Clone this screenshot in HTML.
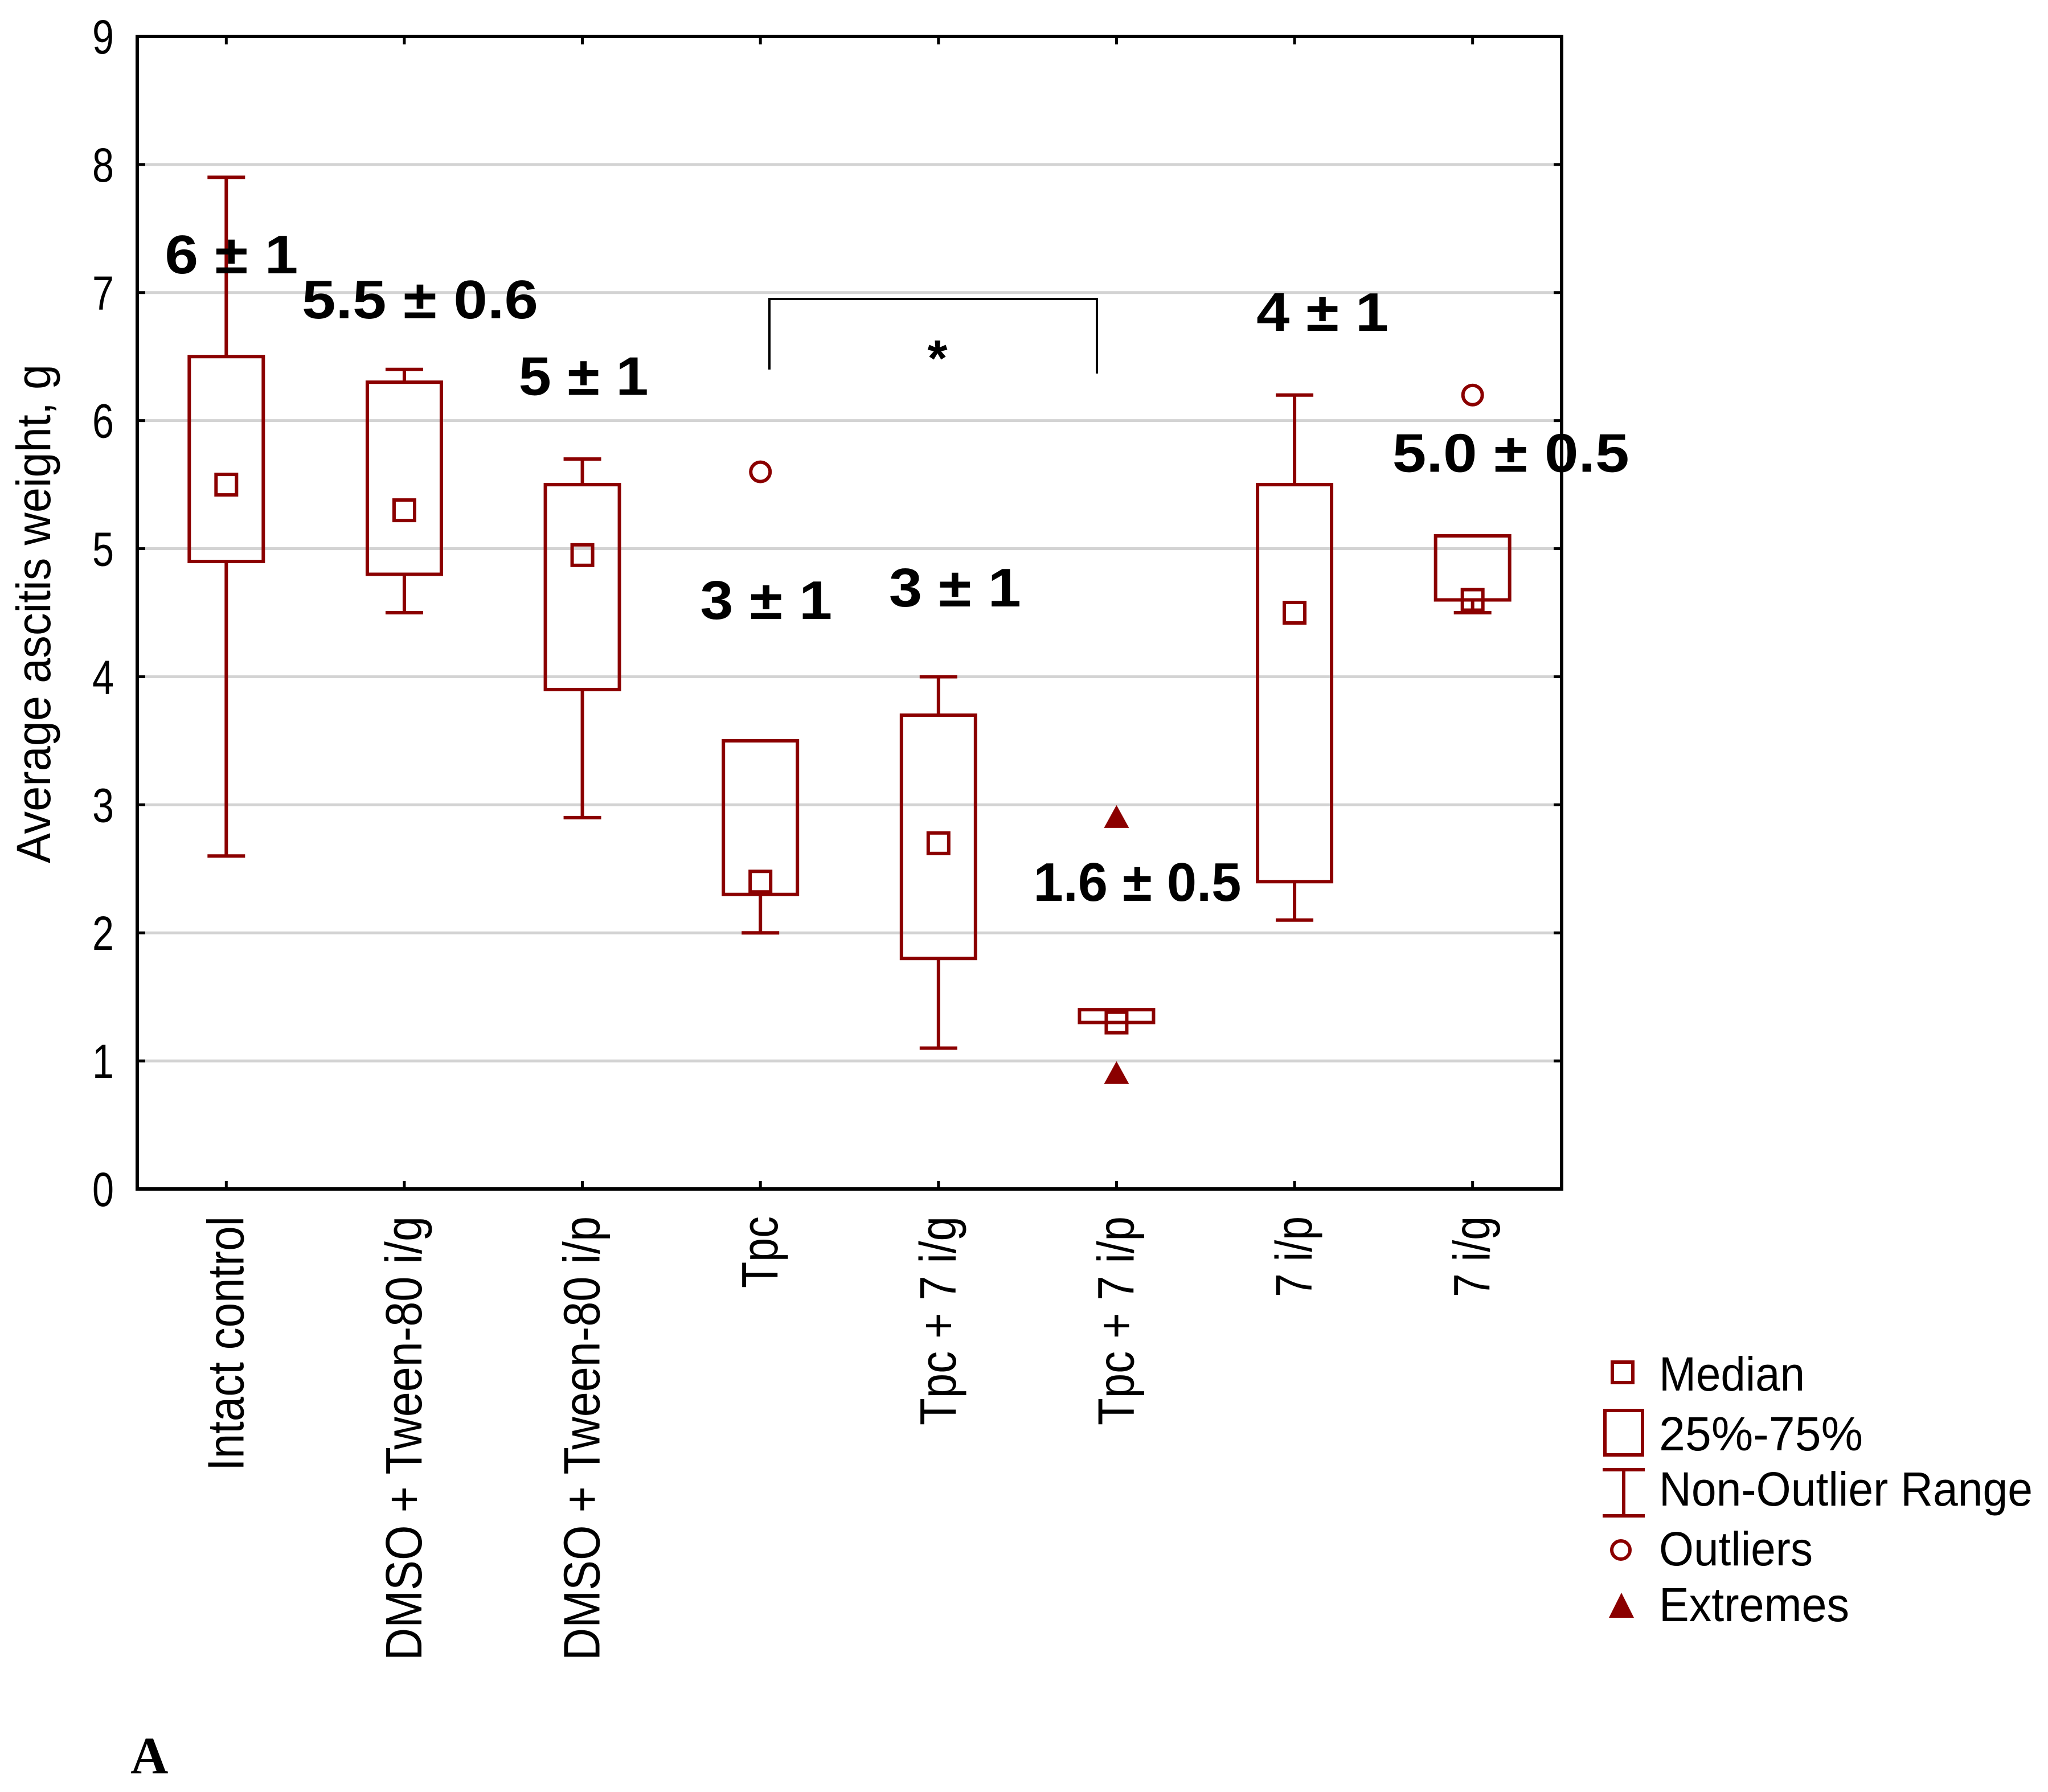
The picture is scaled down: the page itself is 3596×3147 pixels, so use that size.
<!DOCTYPE html>
<html><head><meta charset="utf-8"><style>
html,body{margin:0;padding:0;background:#fff;}
svg{display:block;}
text{font-family:"Liberation Sans",sans-serif;}
</style></head><body>
<svg id="chart" width="3596" height="3147" viewBox="0 0 3596 3147" xmlns="http://www.w3.org/2000/svg">
<rect width="3596" height="3147" fill="#fff"/>
<g id="grid"></g>
<g id="axes"></g>
<g id="marks"></g>
<g id="annos"></g>
<g>
<polyline points="1351,649 1351,525 1926,525 1926,656" fill="none" stroke="#000" stroke-width="4"/>
<text x="1646" y="660" font-size="90" font-weight="bold" text-anchor="middle">*</text>
</g>
<text transform="translate(88,1078) rotate(-90)" font-size="84" text-anchor="middle" textLength="876" lengthAdjust="spacingAndGlyphs">Average ascitis weight, g</text>
<g>
<g><rect x="2831" y="2392" width="36" height="36" fill="none" stroke="#8b0000" stroke-width="6"/><text x="2913" y="2442" font-size="84" textLength="256" lengthAdjust="spacingAndGlyphs">Median</text></g>
<g><rect x="2818" y="2477" width="66" height="78" fill="none" stroke="#8b0000" stroke-width="6"/><text x="2913" y="2547" font-size="84" textLength="358" lengthAdjust="spacingAndGlyphs">25%-75%</text></g>
<g><path d="M2814 2581H2888M2851 2581V2662M2814 2662H2888" fill="none" stroke="#8b0000" stroke-width="6"/><text x="2913" y="2644" font-size="84" textLength="656" lengthAdjust="spacingAndGlyphs">Non-Outlier Range</text></g>
<g><circle cx="2846" cy="2722" r="16" fill="none" stroke="#8b0000" stroke-width="6"/><text x="2913" y="2749" font-size="84" textLength="270" lengthAdjust="spacingAndGlyphs">Outliers</text></g>
<g><polygon points="2847,2797 2869,2841 2825,2841" fill="#8b0000"/><text x="2913" y="2847" font-size="84" textLength="334" lengthAdjust="spacingAndGlyphs">Extremes</text></g>
</g>
<text x="229" y="3114" font-size="92" font-weight="bold" style="font-family:'Liberation Serif',serif">A</text>
</svg>
<script>
const categories = ["Intact control","DMSO + Tween-80 i/g","DMSO + Tween-80 i/p","Tpc","Tpc + 7 i/g","Tpc + 7 i/p","7 i/p","7 i/g"];
const whiskerLow = [2.6,4.5,2.9,2.0,1.1,1.3,2.1,4.5];
const whiskerHigh = [7.9,6.4,5.7,3.5,4.0,1.4,6.2,5.1];
const q1 = [4.9,4.8,3.9,2.3,1.8,1.3,2.4,4.6];
const q3 = [6.5,6.3,5.5,3.5,3.7,1.4,5.5,5.1];
const medians = [5.5,5.3,4.95,2.4,2.7,1.3,4.5,4.6];
const outlierCat = [3,7];
const outlierVal = [5.6,6.2];
const extremeCat = [5,5];
const extremeVal = [2.9,0.9];
const yTicks = [0,1,2,3,4,5,6,7,8,9];
const annoText = ["6 ± 1","5.5 ± 0.6","5 ± 1","3 ± 1","3 ± 1","1.6 ± 0.5","4 ± 1","5.0 ± 0.5"];
const annoVal = [7.15,6.8,6.2,4.45,4.55,2.25,6.7,5.6];
const annoDx = [-108,-180,-112,-106,-87,-146,-67,-141];
const annoLen = [234,415,228,232,232,365,232,416];
const labelLen = [447,780,780,126,367,367,142,142];

const NS="http://www.w3.org/2000/svg";
const L=241,R=2742,T=64,B=2088;
const band=(R-L)/categories.length;
const xS=i=>L+band*(i+0.5);
const yS=v=>B-(v/9)*(B-T);
function mk(tag,attrs,parent){const e=document.createElementNS(NS,tag);for(const k in attrs)e.setAttribute(k,attrs[k]);parent.appendChild(e);return e;}
const grid=document.getElementById('grid'),axes=document.getElementById('axes'),marks=document.getElementById('marks'),annos=document.getElementById('annos');
const red="#8b0000";
yTicks.forEach(v=>{
  const y=yS(v);
  if(v>0&&v<9){const g=mk('line',{x1:L,x2:R,y1:y,y2:y,stroke:"#d3d3d3","stroke-width":5},grid);
  
  }
  mk('line',{x1:L,x2:L+14,y1:y,y2:y,stroke:"#000","stroke-width":5},axes);
  mk('line',{x1:R-14,x2:R,y1:y,y2:y,stroke:"#000","stroke-width":5},axes);
  const t=mk('text',{x:200,y:y+30,"font-size":84,"text-anchor":"end",textLength:38,lengthAdjust:"spacingAndGlyphs"},axes);
  
  
  t.textContent=v;
});
const frame=mk('rect',{x:L,y:T,width:R-L,height:B-T,fill:"none",stroke:"#000","stroke-width":6},axes);


categories.forEach((c,i)=>{
  const x=xS(i);
  mk('line',{x1:x,x2:x,y1:B,y2:B-14,stroke:"#000","stroke-width":5},axes);
  mk('line',{x1:x,x2:x,y1:T,y2:T+14,stroke:"#000","stroke-width":5},axes);
  const t=mk('text',{transform:`translate(${x+30},2136) rotate(-90)`,"font-size":90,"text-anchor":"end",textLength:labelLen[i],lengthAdjust:"spacingAndGlyphs"},axes);
  
  
  t.textContent=c;
  const g=mk('g',{},marks);
  
  
  const st={stroke:red,"stroke-width":6,fill:"none"};
  if(whiskerHigh[i]>q3[i]){mk('line',Object.assign({x1:x,x2:x,y1:yS(q3[i]),y2:yS(whiskerHigh[i])},st),g);mk('line',Object.assign({x1:x-33,x2:x+33,y1:yS(whiskerHigh[i]),y2:yS(whiskerHigh[i])},st),g);}
  if(whiskerLow[i]<q1[i]){mk('line',Object.assign({x1:x,x2:x,y1:yS(q1[i]),y2:yS(whiskerLow[i])},st),g);mk('line',Object.assign({x1:x-33,x2:x+33,y1:yS(whiskerLow[i]),y2:yS(whiskerLow[i])},st),g);}
  mk('rect',Object.assign({x:x-65,y:yS(q3[i]),width:130,height:Math.max(yS(q1[i])-yS(q3[i]),4)},st),g);
  mk('rect',Object.assign({x:x-18,y:yS(medians[i])-18,width:36,height:36},st),g);
  const a=mk('text',{x:x+annoDx[i],y:yS(annoVal[i]),"font-size":96,"font-weight":"bold",textLength:annoLen[i],lengthAdjust:"spacingAndGlyphs"},annos);
  
  
  a.textContent=annoText[i];
});
outlierCat.forEach((c,k)=>{
  const o=mk('circle',{cx:xS(c),cy:yS(outlierVal[k]),r:17,fill:"none",stroke:red,"stroke-width":6},marks);
  
  
});
extremeCat.forEach((c,k)=>{
  const x=xS(c),y=yS(extremeVal[k]);
  const p=mk('polygon',{points:`${x},${y-22} ${x+22},${y+18} ${x-22},${y+18}`,fill:red},marks);
  
  
});
</script>
</body></html>
